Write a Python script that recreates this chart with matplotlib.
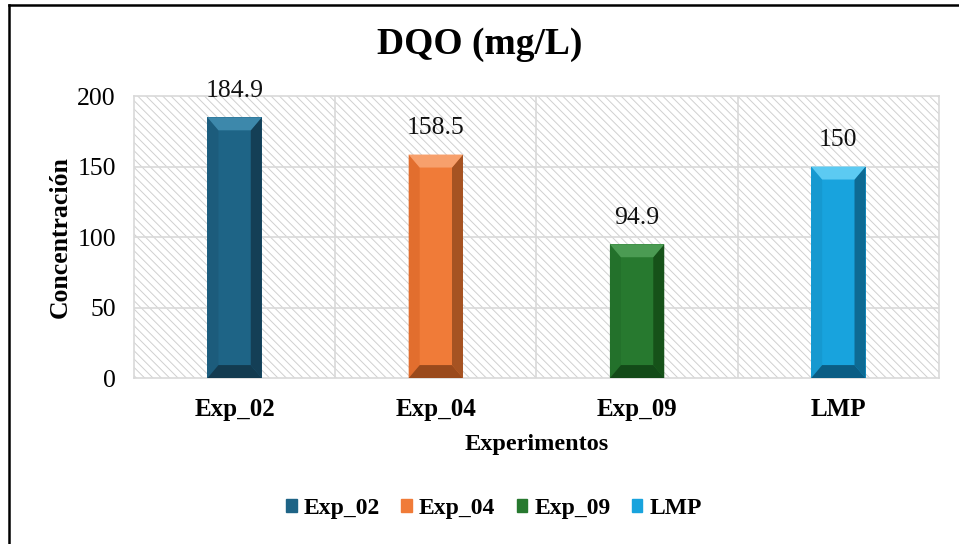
import numpy as np
import matplotlib.pyplot as plt
from matplotlib.patches import Polygon, Rectangle, Patch
from matplotlib.lines import Line2D

# Data
experiments = ["Exp_02", "Exp_04", "Exp_09", "LMP"]
dqo_values = [184.9, 158.5, 94.9, 150]
value_labels = ["184.9", "158.5", "94.9", "150"]

# colours: face, top, bottom, left, right
face_cols = ["#1e6486", "#f07b38", "#27792f", "#18a3dd"]
top_cols = ["#3d88ab", "#f7a06c", "#4b9b53", "#5ccaf2"]
bottom_cols = ["#133b50", "#9a4a1c", "#134a18", "#0b5d84"]
left_cols = ["#1c5c7c", "#e26e2e", "#23712b", "#1699d0"]
right_cols = ["#143f56", "#a65322", "#165219", "#0e6a93"]

plt.rcParams['font.family'] = ['Liberation Serif', 'DejaVu Serif']
plt.rcParams['hatch.color'] = '#d0d0d0'
plt.rcParams['hatch.linewidth'] = 0.7

fig = plt.figure(figsize=(9.59, 5.44), dpi=100)
ax = fig.add_axes([0.1397, 0.305, 0.8394, 0.5185])

x = np.arange(len(experiments))
bar_w = 0.27
ax.set_xlim(-0.5, len(experiments) - 0.5)
ax.set_ylim(0, 200)

# hatched background
bg = Rectangle((0, 0), 1, 1, transform=ax.transAxes, facecolor='white',
               edgecolor='#d0d0d0', hatch='\\\\\\\\', linewidth=0, zorder=0)
ax.add_patch(bg)

# grid
ax.set_yticks([0, 50, 100, 150, 200])
for yv in [50, 100, 150]:
    ax.axhline(yv, color='#d9d9d9', linewidth=1.2, zorder=1)
for xv in x[:-1] + 0.5:
    ax.axvline(xv, color='#d9d9d9', linewidth=1.2, zorder=1)

# bevel size in data units (pixels -> data)
fig.canvas.draw()
bbox = ax.get_window_extent()
px_x = bbox.width / (len(experiments))
px_y = bbox.height / 200
bx = 11 / px_x
by = 13 / px_y

for i, (xc, h) in enumerate(zip(x, dqo_values)):
    x0, x1 = xc - bar_w / 2, xc + bar_w / 2
    # front face
    ax.add_patch(Rectangle((x0, 0), bar_w, h, facecolor=face_cols[i], linewidth=0, zorder=3))
    # left bevel
    ax.add_patch(Polygon([(x0, 0), (x0 + bx, by), (x0 + bx, h - by), (x0, h)],
                         facecolor=left_cols[i], linewidth=0, zorder=4))
    # right bevel
    ax.add_patch(Polygon([(x1, 0), (x1 - bx, by), (x1 - bx, h - by), (x1, h)],
                         facecolor=right_cols[i], linewidth=0, zorder=4))
    # top bevel
    ax.add_patch(Polygon([(x0, h), (x1, h), (x1 - bx, h - by), (x0 + bx, h - by)],
                         facecolor=top_cols[i], linewidth=0, zorder=4))
    # bottom bevel
    ax.add_patch(Polygon([(x0, 0), (x1, 0), (x1 - bx, by), (x0 + bx, by)],
                         facecolor=bottom_cols[i], linewidth=0, zorder=4))
    ax.annotate(value_labels[i], (xc, h), xytext=(0, 11), textcoords='offset points',
                ha='center', va='bottom', fontsize=18.5, color='#111111')

for s in ax.spines.values():
    s.set_color('#d9d9d9')
    s.set_linewidth(1.2)

ax.set_xticks(x)
ax.set_xticklabels(experiments, fontsize=18, fontweight='bold')
ax.tick_params(axis='x', length=0, pad=14)
ax.tick_params(axis='y', length=0, pad=13, labelsize=18.5)

ax.set_xlabel('Experimentos', fontsize=17.5, fontweight='bold', labelpad=10)
ax.set_ylabel('Concentración', fontsize=18.5, fontweight='bold', labelpad=4)
fig.text(0.5, 1 - 27 / 544, 'DQO (mg/L)', fontsize=27, fontweight='bold',
         ha='center', va='top')

handles = [Patch(facecolor=c, edgecolor=c) for c in face_cols]
fig.legend(handles, experiments, loc='center', bbox_to_anchor=(0.515, 0.066),
           ncol=4, frameon=False, prop={'weight': 'bold', 'size': 17},
           handlelength=0.45, handleheight=0.45, handletextpad=0.3, columnspacing=0.9)

# outer border (left and top visible)
fig.add_artist(Line2D([0.009, 0.009], [0, 0.99], color='black', linewidth=1.8,
                      transform=fig.transFigure))
fig.add_artist(Line2D([0.009, 1], [0.99, 0.99], color='black', linewidth=1.8,
                      transform=fig.transFigure))

plt.savefig('out.png', dpi=100)
